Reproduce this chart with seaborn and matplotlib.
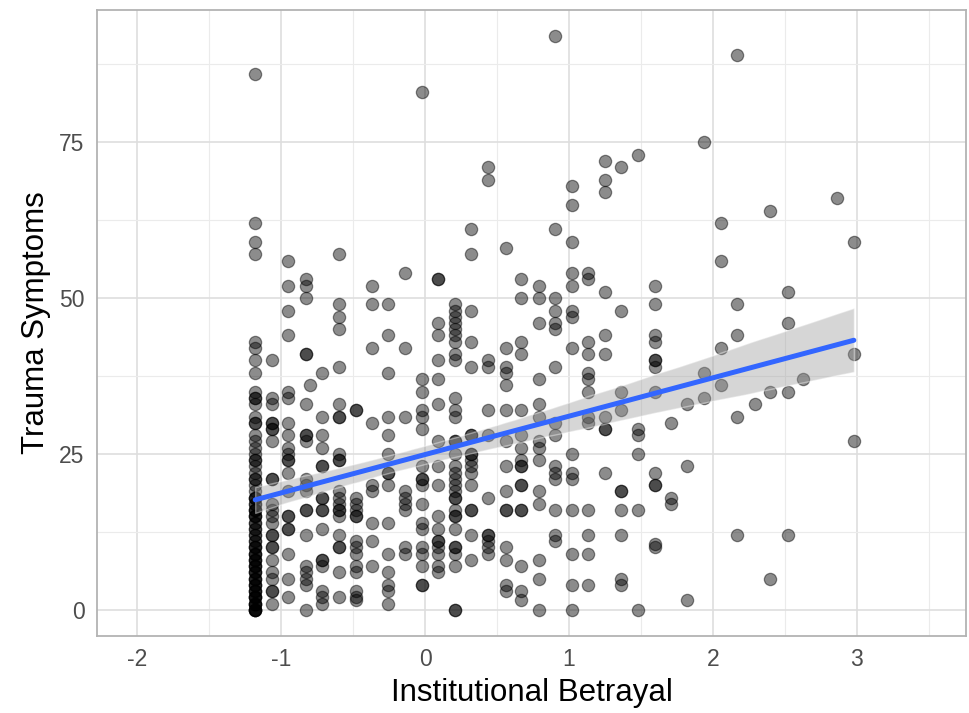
import numpy as np
import pandas as pd
import matplotlib
matplotlib.use("Agg")
import matplotlib.pyplot as plt
import seaborn as sns
from matplotlib.collections import PolyCollection
from matplotlib.ticker import MultipleLocator

# --- data: one list of symptom scores per betrayal level ---
betrayal_levels = [
    -1.18, -1.06, -0.95, -0.83, -0.80, -0.715, -0.60, -0.48, -0.37, -0.256,
    -0.14, -0.02, 0.09, 0.21, 0.32, 0.44, 0.56, 0.67, 0.79, 0.90,
    1.02, 1.13, 1.25, 1.36, 1.48, 1.60, 1.71, 1.82, 1.94, 2.06,
    2.17, 2.29, 2.40, 2.52, 2.63, 2.86, 2.98,
]
symptoms_at_level = [
    # -1.18 (the dense, nearly black column)
    [86, 62, 59, 57, 43, 42, 40, 38, 35, 34, 34, 33, 31, 30, 30, 28, 27, 26,
     25, 24, 24, 23, 22, 21, 21, 20, 19, 18, 18, 17, 16, 16, 15, 15, 14, 13,
     12, 11, 10, 10, 9, 9, 8, 8, 7, 7, 6, 5, 5, 4, 3, 3, 2, 2, 1, 1, 0, 0, 0,
     0, 0, 1, 1, 2, 2, 3, 4, 4, 5, 6, 6, 7, 8, 9, 10, 11, 12, 13, 14, 15, 16,
     17, 18],
    # -1.06
    [40, 34, 33, 30, 30, 29, 29, 27, 21, 21, 17, 16, 15, 14, 12, 12, 10, 10,
     8, 6, 5, 3, 3, 1],
    # -0.95
    [56, 52, 48, 44, 35, 34, 30, 28, 26, 25, 24, 24, 22, 19, 15, 15, 13, 13,
     9, 5, 2],
    # -0.83
    [53, 52, 50, 41, 41, 33, 28, 28, 27, 21, 20, 19, 16, 16, 12, 7, 6, 5, 4, 0],
    # -0.80
    [36],
    # -0.715
    [38, 31, 28, 26, 23, 23, 18, 18, 16, 16, 13, 8, 8, 7, 3, 2, 1],
    # -0.60
    [57, 49, 47, 45, 39, 33, 31, 31, 25, 24, 24, 19, 18, 17, 16, 16, 15, 12,
     10, 10, 6, 2],
    # -0.48
    [32, 32, 18, 17, 16, 15, 15, 11, 10, 9, 7, 6, 3, 2, 1.5],
    # -0.37
    [52, 49, 42, 30, 20, 19, 14, 11, 7],
    # -0.256
    [49, 44, 38, 31, 28, 25, 22, 22, 20, 14, 9, 6, 4, 3, 1],
    # -0.14
    [54, 42, 31, 19, 18, 17, 16, 10, 9],
    # -0.02
    [83, 37, 35, 32, 31, 29, 23, 21, 21, 20, 17, 14, 13, 10, 9, 7, 4, 4],
    # 0.09
    [53, 53, 46, 44, 40, 37, 33, 27, 23, 20, 15, 13, 11, 11, 10, 9, 7, 6],
    # 0.21
    [49, 48, 47, 46, 45, 44, 43, 41, 40, 34, 32, 31, 27, 27, 25, 23, 22, 21,
     20, 19, 18, 18, 16, 15, 15, 13, 10, 10, 9, 7, 0, 0],
    # 0.32
    [61, 57, 48, 43, 39, 28, 28, 25, 25, 24, 23, 22, 20, 16, 16, 12, 8],
    # 0.44
    [71, 69, 40, 39, 32, 28, 18, 12, 12, 11, 10, 9],
    # 0.56
    [58, 42, 39, 38, 36, 32, 27, 23, 19, 16, 16, 10, 8, 4, 3],
    # 0.67
    [53, 50, 43, 41, 32, 28, 26, 24, 23, 23, 20, 20, 16, 16, 7, 3, 1.5],
    # 0.79
    [52, 50, 46, 37, 33, 31, 27, 26, 24, 19, 17, 8, 5, 0],
    # 0.90
    [92, 61, 50, 48, 46, 45, 39, 30, 28, 23, 22, 21, 16, 12, 11],
    # 1.02
    [68, 65, 59, 54, 52, 48, 47, 42, 25, 22, 21, 16, 9, 4, 0],
    # 1.13
    [54, 53, 43, 41, 38, 37, 35, 31, 30, 16, 12, 9, 4],
    # 1.25
    [72, 69, 67, 51, 44, 41, 31, 29, 29, 22],
    # 1.36
    [71, 48, 35, 32, 19, 19, 16, 12, 5, 4],
    # 1.48
    [73, 29, 28, 25, 16, 0],
    # 1.60
    [52, 49, 44, 43, 40, 40, 39, 35, 22, 20, 20, 10.5, 10],
    # 1.71
    [30, 18, 17],
    # 1.82
    [33, 23, 1.5],
    # 1.94
    [75, 38, 34],
    # 2.06
    [62, 56, 42, 36],
    # 2.17
    [89, 49, 44, 31, 12],
    # 2.29
    [33],
    # 2.40
    [64, 35, 5],
    # 2.52
    [51, 46, 35, 12],
    # 2.63
    [37],
    # 2.86
    [66],
    # 2.98
    [59, 41, 27],
]

x_ticks = [-2, -1, 0, 1, 2, 3]
y_ticks = [0, 25, 50, 75]

df = pd.DataFrame(
    [(b, s) for b, ys in zip(betrayal_levels, symptoms_at_level) for s in ys],
    columns=["betrayal", "symptoms"],
)

# --- ggplot theme_light look ---
sns.set_style("white")
plt.rcParams["font.family"] = ["Liberation Sans", "DejaVu Sans"]
plt.rcParams["axes.unicode_minus"] = False

fig = plt.figure(figsize=(9.69, 7.13), dpi=100)
ax = fig.add_axes([0.100, 0.108, 0.897, 0.878])

sns.regplot(
    data=df,
    x="betrayal",
    y="symptoms",
    ax=ax,
    ci=95,
    seed=1,
    truncate=True,
    scatter_kws=dict(s=78, color="black", alpha=0.45, linewidths=0.9,
                     edgecolors="black", zorder=2),
    line_kws=dict(color="#3366FF", lw=3.6, zorder=4),
)

# grey confidence ribbon like geom_smooth
for coll in ax.collections:
    if isinstance(coll, PolyCollection):
        coll.set_facecolor("#999999")
        coll.set_alpha(0.4)
        coll.set_zorder(3)

ax.set_xlim(-2.28, 3.76)
ax.set_ylim(-4.2, 96.2)
ax.set_xticks(x_ticks)
ax.set_yticks(y_ticks)
ax.xaxis.set_minor_locator(MultipleLocator(0.5))
ax.yaxis.set_minor_locator(MultipleLocator(12.5))

ax.grid(which="major", color="#dedede", linewidth=1.2, zorder=0)
ax.grid(which="minor", color="#ebebeb", linewidth=0.8, zorder=0)
ax.set_axisbelow(True)

for sp in ax.spines.values():
    sp.set_color("#b3b3b3")
    sp.set_linewidth(1.3)

ax.tick_params(which="major", length=5, width=1.1, color="#b3b3b3",
               labelsize=16.5, labelcolor="#4d4d4d", pad=4)
ax.tick_params(which="minor", length=0)

ax.set_xlabel("Institutional Betrayal", fontsize=22.5, color="black", labelpad=5)
ax.set_ylabel("Trauma Symptoms", fontsize=22.5, color="black", labelpad=6)

fig.savefig("out.png", dpi=100)
